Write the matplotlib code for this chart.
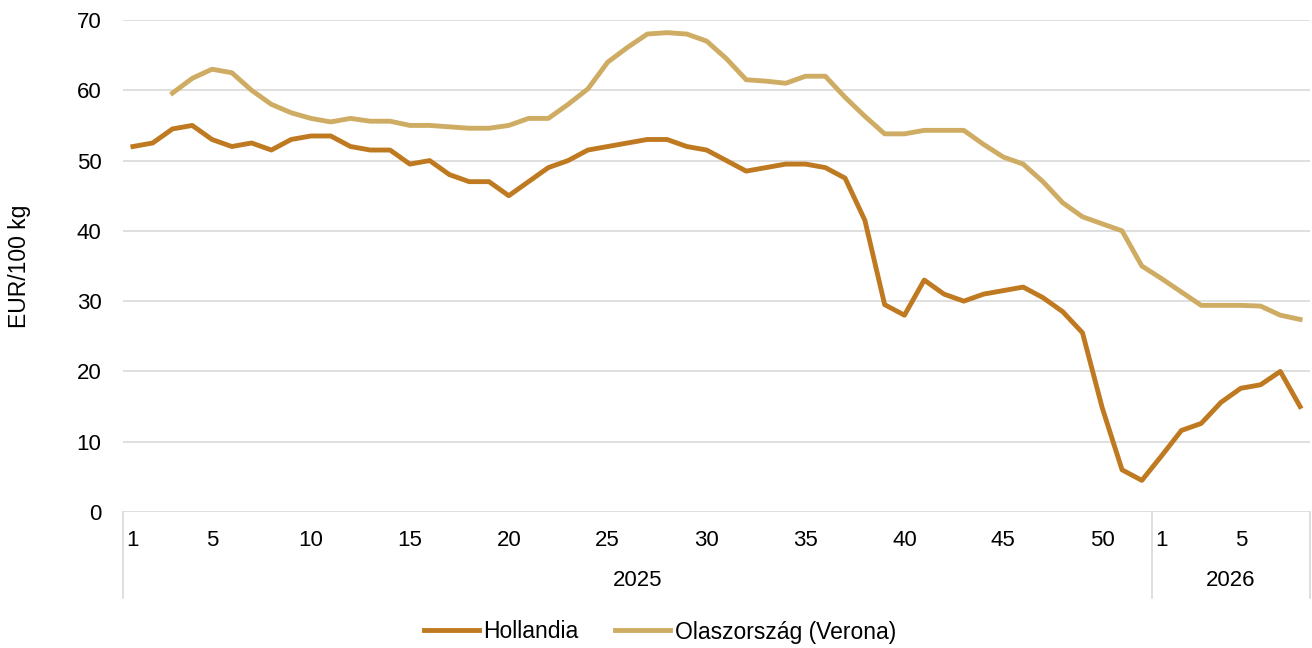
import numpy as np
import matplotlib.pyplot as plt
import matplotlib.transforms as mtransforms

plt.rcParams['font.family'] = ['Liberation Sans', 'DejaVu Sans']

# hetek: 2025 1-52, 2026 1-8
years = ['2025', '2026']
weeks_2025 = list(range(1, 53))
weeks_2026 = list(range(1, 9))
shown_weeks = [1, 5, 10, 15, 20, 25, 30, 35, 40, 45, 50]

hollandia = [52, 52.5, 54.5, 55, 53, 52, 52.5, 51.5, 53, 53.5,
             53.5, 52, 51.5, 51.5, 49.5, 50, 48, 47, 47, 45,
             47, 49, 50, 51.5, 52, 52.5, 53, 53, 52, 51.5,
             50, 48.5, 49, 49.5, 49.5, 49, 47.5, 41.5, 29.5, 28,
             33, 31, 30, 31, 31.5, 32, 30.5, 28.5, 25.5, 14.8,
             6, 4.5,
             8, 11.6, 12.6, 15.6, 17.6, 18.1, 20, 15]

olasz = [np.nan, np.nan, 59.6, 61.7, 63, 62.5, 60, 58, 56.8, 56,
         55.5, 56, 55.6, 55.6, 55, 55, 54.8, 54.6, 54.6, 55,
         56, 56, 58, 60.2, 64, 66.1, 68, 68.2, 68, 67,
         64.5, 61.5, 61.3, 61, 62, 62, 59, 56.3, 53.8, 53.8,
         54.3, 54.3, 54.3, 52.3, 50.5, 49.5, 47, 44, 42, 41,
         40, 35,
         33.2, 31.3, 29.4, 29.4, 29.4, 29.3, 28, 27.4]

c_hol = '#BF7A21'
c_ola = '#CFAC63'
grid_c = '#D9D9D9'
fs = 16

fig = plt.figure(figsize=(13.12, 6.48), dpi=100)
ax = fig.add_axes([123 / 1312, 1 - 512 / 648, (1310 - 123) / 1312, 492 / 648])

x = np.arange(len(hollandia))
ax.plot(x, hollandia, color=c_hol, lw=3.5, label='Hollandia')
ax.plot(x, olasz, color=c_ola, lw=3.5, label='Olaszország (Verona)')

ax.set_ylim(0, 70)
ax.set_xlim(-0.5, len(x) - 0.5)
ax.set_yticks(range(0, 71, 10))
ax.tick_params(axis='y', length=0, pad=15.5, labelsize=fs)
ax.set_xticks([])
ax.yaxis.grid(True, color=grid_c, lw=1.2)
ax.set_axisbelow(True)
for s in ax.spines.values():
    s.set_visible(False)

# kétszintű kategória tengely
tr = mtransforms.blended_transform_factory(ax.transData, ax.transAxes)
n25 = len(weeks_2025)
for i, w in enumerate(weeks_2025):
    if w in shown_weeks:
        ax.text(i, -0.057, str(w), transform=tr, ha='center', va='center', fontsize=fs)
for i, w in enumerate(weeks_2026):
    if w in shown_weeks:
        ax.text(n25 + i, -0.057, str(w), transform=tr, ha='center', va='center', fontsize=fs)
ax.text((n25 - 1) / 2, -0.14, years[0], transform=tr, ha='center', va='center', fontsize=fs)
ax.text(n25 + (len(weeks_2026) - 1) / 2, -0.14, years[1], transform=tr,
        ha='center', va='center', fontsize=fs)
for xs in [-0.5, n25 - 0.5, len(x) - 0.5]:
    ax.plot([xs, xs], [0, -0.175], transform=tr, color=grid_c, lw=1.2, clip_on=False)

fig.text(20 / 1312, 1 - 266 / 648, 'EUR/100 kg', rotation=90, ha='center', va='center',
         fontsize=16.5)

fig.legend(loc='center', bbox_to_anchor=(660 / 1312, 1 - 632 / 648), ncol=2, frameon=False,
           fontsize=16.5, handlelength=2.4, handletextpad=0.2, columnspacing=1.6)

fig.savefig('out.png', dpi=100)
